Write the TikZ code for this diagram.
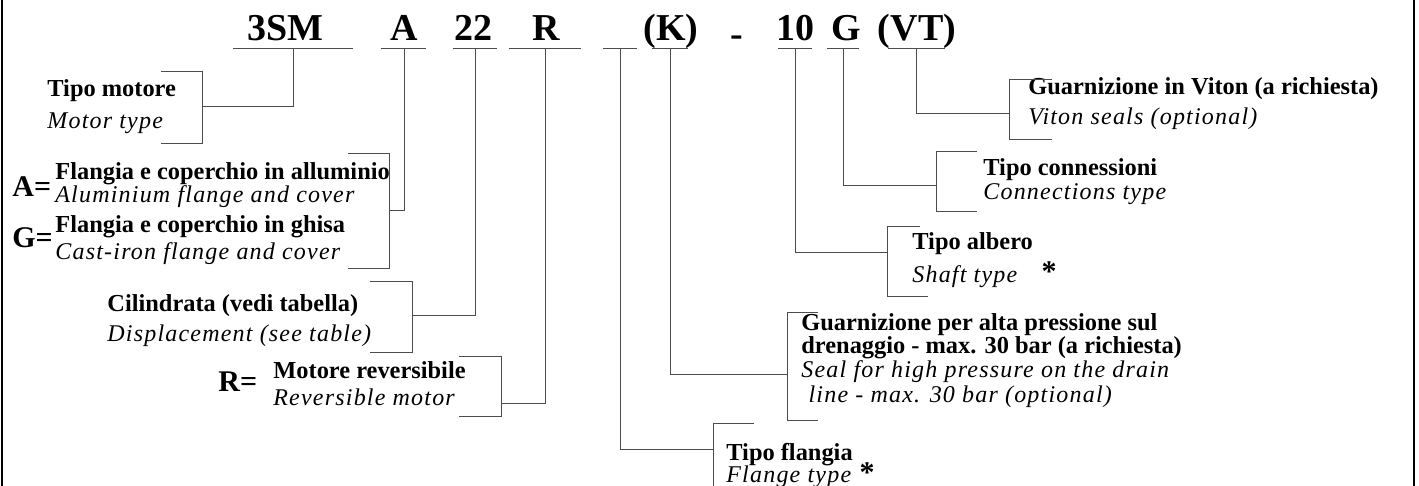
\documentclass[tikz,border=0pt]{standalone}
\usepackage{fontspec}
\setmainfont{Liberation Serif}[ItalicFeatures={LetterSpace=5}]

\begin{document}
\begin{tikzpicture}[x={(0.5pt,0pt)}, y={(0pt,-0.5pt)},
    line/.style={black!70, line width=0.5pt},
    code/.style={anchor=base, inner sep=0pt, font=\fontsize{19}{22}\selectfont\bfseries},
    tit/.style={anchor=base west, inner sep=0pt, font=\fontsize{12.2}{14}\selectfont\bfseries},
    sub/.style={anchor=base west, inner sep=0pt, font=\fontsize{12}{14}\selectfont\itshape},
    key/.style={anchor=base west, inner sep=0pt, font=\fontsize{15}{18}\selectfont\bfseries},
    star/.style={anchor=base, inner sep=0pt, font=\fontsize{15}{18}\selectfont\bfseries}]
    \useasboundingbox (0,0) rectangle (1419,486);
    \draw[line width=1pt] (1.5,0) -- (1.5,486);
    \draw[line width=1pt] (1413.5,0) -- (1413.5,486);

    % code
    \node[code] (c3sm) at (285,41) {3SM};
    \node[code] (ca) at (404,41) {A};
    \node[code] (c22) at (473,41) {22};
    \node[code] (cr) at (546,41) {R};
    \node[code] (ck) at (671,41) {(K)};
    \node[code] (cdash) at (737,47) {-};
    \node[code] (c10) at (795,41) {10};
    \node[code] (cg) at (846,41) {G};
    \node[code] (cvt) at (917,41) {(VT)};

    % underlines
    \draw[line] (233,49) -- (353,49);
    \draw[line] (381,49) -- (426,49);
    \draw[line] (453,49) -- (497,49);
    \draw[line] (509,49) -- (581,49);
    \draw[line] (603,49) -- (637,49);
    \draw[line] (652,49) -- (688,49);
    \draw[line] (778,49) -- (812,49);
    \draw[line] (827,49) -- (859,49);
    \draw[line] (888,49) -- (945,49);

    % left labels
    \node[tit] (tmot) at (47,97) {Tipo motore};
    \node[sub] (smot) at (47,129) {Motor type};
    \node[key] (ka) at (12,197) {A=};
    \node[tit] (tal) at (55,180) {Flangia e coperchio in alluminio};
    \node[sub] (sal) at (55,203) {Aluminium flange and cover};
    \node[key] (kg) at (12,248) {G=};
    \node[tit] (tgh) at (55,233) {Flangia e coperchio in ghisa};
    \node[sub] (sgh) at (55,260) {Cast-iron flange and cover};
    \node[tit] (tcil) at (107,312) {Cilindrata (vedi tabella)};
    \node[sub] (scil) at (107,342) {Displacement (see table)};
    \node[key] (kr) at (218,391) {R=};
    \node[tit] (trev) at (273,379) {Motore reversibile};
    \node[sub] (srev) at (273,405) {Reversible motor};

    % right labels
    \node[tit] (tvit) at (1028,95) {Guarnizione in Viton (a richiesta)};
    \node[sub] (svit) at (1028,125) {Viton seals (optional)};
    \node[tit] (tcon) at (983,176) {Tipo connessioni};
    \node[sub] (scon) at (983,200) {Connections type};
    \node[tit] (talb) at (912,250) {Tipo albero};
    \node[sub] (salb) at (912,283) {Shaft type};
    \node[star] (stalb) at (1049,282) {*};
    \node[tit] (tdr1) at (801,330) {Guarnizione per alta pressione sul};
    \node[tit] (tdr2) at (801,353) {drenaggio - max. 30 bar (a richiesta)};
    \node[sub] (sdr1) at (801,377) {Seal for high pressure on the drain};
    \node[sub] (sdr2) at (801,402) {\ line - max. 30 bar (optional)};
    \node[tit] (tfl) at (726,460) {Tipo flangia};
    \node[sub] (sfl) at (726,482) {Flange type};
    \node[star] (stfl) at (867,482) {*};

    % stems to brackets
    \coordinate (u3sm) at (293,49);  \coordinate (b3sm) at (202,107);
    \coordinate (ua) at (404,49);    \coordinate (ba) at (389,211);
    \coordinate (u22) at (475,49);   \coordinate (b22) at (412,316);
    \coordinate (ur) at (545,49);    \coordinate (br) at (501,403);
    \coordinate (ufl) at (620,49);   \coordinate (bfl) at (713,449);
    \coordinate (uk) at (670,49);    \coordinate (bk) at (787,374);
    \coordinate (u10) at (795,49);   \coordinate (b10) at (887,253);
    \coordinate (ug) at (843,49);    \coordinate (bg) at (936,186);
    \coordinate (uvt) at (916,49);   \coordinate (bvt) at (1009,114);
    \foreach \s in {3sm,a,22,r,fl,k,10,g,vt}
        \draw[line] (u\s) |- (b\s);

    % brackets
    \draw[line] (161,72) -| (202,144) -- (161,144);
    \draw[line] (348,154) -| (389,269) -- (348,269);
    \draw[line] (370,282) -| (412,352) -- (370,352);
    \draw[line] (459,356) -| (501,416) -- (459,416);
    \draw[line] (754,423) -| (713,487);
    \draw[line] (818,313) -| (787,420) -- (818,420);
    \draw[line] (920,227) -| (887,297) -- (928,297);
    \draw[line] (977,152) -| (936,212) -- (977,212);
    \draw[line] (1052,80) -| (1009,140) -- (1052,140);
\end{tikzpicture}
\end{document}
